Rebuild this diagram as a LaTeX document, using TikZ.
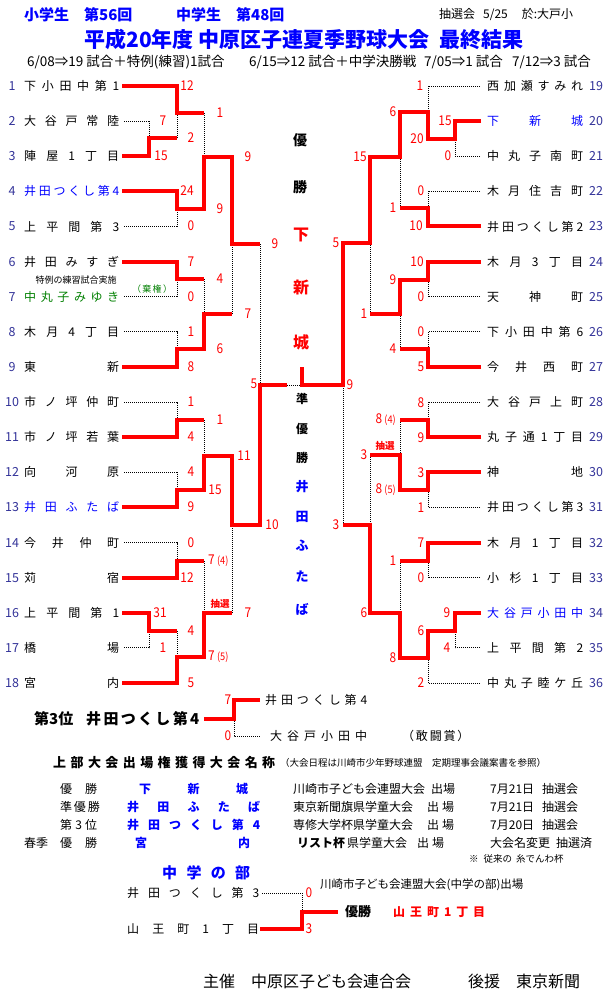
\documentclass[tikz,border=0pt]{standalone}
\usepackage{fontspec}
\setmainfont{Noto Sans CJK JP}
\newfontfamily\scorefont{Noto Sans CJK JP}[FakeStretch=0.88]
\definecolor{numblue}{HTML}{333399}
\definecolor{titleblue}{HTML}{0000FF}
\definecolor{teamgreen}{HTML}{008000}
\newcommand{\spreadtext}[2]{\makebox[#1][s]{#2}}
\newcommand{\fsz}[1]{\fontsize{#1}{#1}\selectfont}
\newcommand{\smallpar}[1]{{\fsz{10.5}#1}}
\tikzset{
  winline/.style={red, line width=4pt},
  loseline/.style={black, line width=0.9pt, dash pattern=on 1pt off 1pt},
  score/.style={red, font=\scorefont\fsz{13.5}},
  teamname/.style={anchor=west, font=\fsz{12}},
  teamnum/.style={numblue, font=\fsz{12.5}},
  lotbox/.style={red, font=\bfseries\fsz{9.5}},
}
\begin{document}
\begin{tikzpicture}[x=1pt,y=-1pt,every node/.style={inner sep=0pt}]
\fill[white] (0,0) rectangle (610,998);

% header
\node[anchor=west,titleblue,font=\bfseries\fsz{15}] (hd1) at (24,15) {小学生　第56回};
\node[anchor=west,titleblue,font=\bfseries\fsz{15}] (hd2) at (176,15) {中学生　第48回};
\node[anchor=west,font=\fsz{12}] (hd3) at (439,15) {抽選会\hspace{8pt}5/25\hspace{14pt}於:大戸小};
\node[titleblue,font=\bfseries\fsz{21}] (title) at (304,39) {平成20年度 中原区子連夏季野球大会\hspace{10pt}最終結果};
\node[anchor=west,font=\fsz{13.5}] (dates) at (27,62) {\makebox[222pt][l]{6/08⇒19 試合＋特例(練習)1試合}\makebox[175pt][l]{6/15⇒12 試合＋中学決勝戦}\makebox[88pt][l]{7/05⇒1 試合}7/12⇒3 試合};

% teams, left
\foreach \tn/\name/\col in {1/下 小 田 中 第 1/black, 2/大 谷 戸 常 陸/black,
  3/陣 屋 1 丁 目/black, 4/井 田 つ く し 第 4/titleblue, 5/上 平 間 第 3/black,
  6/井 田 み す ぎ/black, 7/中 丸 子 み ゆ き/teamgreen, 8/木 月 4 丁 目/black,
  9/東 新/black, 10/市 ノ 坪 仲 町/black, 11/市 ノ 坪 若 葉/black,
  12/向 河 原/black, 13/井 田 ふ た ば/titleblue, 14/今 井 仲 町/black,
  15/苅 宿/black, 16/上 平 間 第 1/black, 17/橋 場/black, 18/宮 内/black}{
  \node[teamnum] (n\tn) at (12,{86+(\tn-1)*35.12}) {\tn};
  \node[teamname,\col] (t\tn) at (24,{86+(\tn-1)*35.12}) {\spreadtext{95pt}{\name}};
}
% teams, right
\foreach \tn/\name/\col in {19/西 加 瀬 す み れ/black, 20/下 新 城/titleblue,
  21/中 丸 子 南 町/black, 22/木 月 住 吉 町/black, 23/井 田 つ く し 第 2/black,
  24/木 月 3 丁 目/black, 25/天 神 町/black, 26/下 小 田 中 第 6/black,
  27/今 井 西 町/black, 28/大 谷 戸 上 町/black, 29/丸 子 通 1 丁 目/black,
  30/神 地/black, 31/井 田 つ く し 第 3/black, 32/木 月 1 丁 目/black,
  33/小 杉 1 丁 目/black, 34/大 谷 戸 小 田 中/titleblue, 35/上 平 間 第 2/black,
  36/中 丸 子 睦 ケ 丘/black}{
  \node[teamnum] (n\tn) at (596,{86+(\tn-19)*35.12}) {\tn};
  \node[teamname,\col] (t\tn) at (487,{86+(\tn-19)*35.12}) {\spreadtext{96pt}{\name}};
}
\node[font=\fsz{9}] (note7) at (76,280) {特例の練習試合実施};
\node[teamgreen,font=\fsz{9}] (abst7) at (150,289) {\spreadtext{36pt}{（ 棄 権 ）}};

% losers, left
\draw[loseline] ([xshift=5pt]t2.east) -| (149,138);
\draw[loseline] (177,138) -- (177,113);
\draw[loseline] (204,113) -- (204,157);
\draw[loseline] ([xshift=5pt]t5.east) -| (177,209);
\draw[loseline] (260,244) -- (260,385);
\draw[loseline] ([xshift=5pt]t7.east) -| (177,279);
\draw[loseline] (204,279) -- (204,314);
\draw[loseline] ([xshift=5pt]t8.east) -| (177,349);
\draw[loseline] (232,314) -- (232,244);
\draw[loseline] ([xshift=5pt]t10.east) -| (177,420);
\draw[loseline] (204,420) -- (204,456);
\draw[loseline] ([xshift=5pt]t12.east) -| (177,490);
\draw[loseline] ([xshift=5pt]t14.east) -| (177,561);
\draw[loseline] (204,561) -- (204,613);
\draw[loseline] ([xshift=5pt]t17.east) -| (149,631);
\draw[loseline] (177,631) -- (177,657);
\draw[loseline] (232,613) -- (232,525);
\draw[loseline] (287,385) -- (302,385);
% losers, right
\draw[loseline] ([xshift=-7pt]t19.west) -| (428,112);
\draw[loseline] ([xshift=-7pt]t21.west) -| (455,139);
\draw[loseline] ([xshift=-7pt]t22.west) -| (428,208);
\draw[loseline] (400,208) -- (400,157);
\draw[loseline] ([xshift=-7pt]t25.west) -| (428,280);
\draw[loseline] (370,314) -- (370,243);
\draw[loseline] ([xshift=-7pt]t26.west) -| (428,349);
\draw[loseline] (400,349) -- (400,314);
\draw[loseline] ([xshift=-7pt]t28.west) -| (428,420);
\draw[loseline] (400,420) -- (400,455);
\draw[loseline] ([xshift=-7pt]t31.west) -| (428,490);
\draw[loseline] (370,455) -- (370,525);
\draw[loseline] ([xshift=-7pt]t33.west) -| (428,561);
\draw[loseline] (400,561) -- (400,613);
\draw[loseline] ([xshift=-7pt]t35.west) -| (455,631);
\draw[loseline] ([xshift=-7pt]t36.west) -| (428,658);
\draw[loseline] (343,525) -- (343,385);

% winners, left
\draw[winline] ([xshift=3pt]t1.east) -| (177,113) -- (204,113);
\draw[winline] ([xshift=3pt]t3.east) -| (149,138) -- (177,138);
\draw[winline] ([xshift=3pt]t4.east) -| (177,209) -| (204,157) -| (232,244) -- (260,244);
\draw[winline] ([xshift=3pt]t6.east) -| (177,279) -- (204,279);
\draw[winline] ([xshift=3pt]t9.east) -| (177,349) -| (204,314) -- (232,314);
\draw[winline] ([xshift=3pt]t11.east) -| (177,420) -- (204,420);
\draw[winline] ([xshift=3pt]t13.east) -| (177,490) -| (204,456) -| (232,525) -| (260,385) -- (287,385);
\draw[winline] ([xshift=3pt]t15.east) -| (177,561) -- (204,561);
\draw[winline] ([xshift=3pt]t16.east) -| (149,631) -- (177,631);
\draw[winline] ([xshift=3pt]t18.east) -| (177,657) -| (204,613) -- (232,613);
% winners, right
\draw[winline] ([xshift=-6pt]t20.west) -| (455,139) -| (428,112) -| (400,157) -| (370,243) -| (343,385) -| (302,367);
\draw[winline] ([xshift=-6pt]t23.west) -| (428,208) -- (400,208);
\draw[winline] ([xshift=-6pt]t24.west) -| (428,280) -| (400,314) -- (370,314);
\draw[winline] ([xshift=-6pt]t27.west) -| (428,349) -- (400,349);
\draw[winline] ([xshift=-6pt]t29.west) -| (428,420) -- (400,420);
\draw[winline] ([xshift=-6pt]t30.west) -| (428,490) -| (400,455) -- (370,455);
\draw[winline] ([xshift=-6pt]t32.west) -| (428,561) -- (400,561);
\draw[winline] ([xshift=-6pt]t34.west) -| (455,631) -| (428,658) -| (400,613) -| (370,525) -- (343,525);

% scores
\foreach \x/\y/\s [count=\i] in {187/86/12, 163/121/7, 161/156/15, 191/138/2, 220/113/1,
  248/157/9, 187/191/24, 220/209/9, 191/226/0, 275/244/9, 191/262/7, 191/297/0,
  220/279/4, 191/332/1, 191/367/8, 220/349/6, 248/314/7, 254/384/5, 191/402/1,
  191/437/4, 220/420/1, 191/472/4, 191/507/9, 215/490/15, 244/456/11, 272/525/10,
  191/543/0, 187/578/12, 160/613/31, 163/648/1, 191/631/4, 191/683/5, 248/613/7}
  \node[score] (sl\i) at (\x,\y) {\s};
\foreach \x/\y/\s [count=\i] in {420/86/1, 445/121/15, 448/156/0, 417/139/20, 393/112/6,
  421/191/0, 416/226/10, 393/208/1, 360/157/15, 336/243/5, 417/262/10, 421/297/0,
  393/280/9, 421/332/0, 421/367/5, 393/349/4, 364/314/1, 350/385/9, 421/403/8,
  421/438/9, 421/473/3, 421/508/1, 364/455/3, 336/525/3, 421/543/7, 421/578/0,
  393/561/1, 447/613/9, 447/648/4, 421/631/6, 421/683/2, 393/658/8, 364/613/6}
  \node[score] (sr\i) at (\x,\y) {\s};
\node[score,anchor=west] (sl34) at (208,561) {7\,\smallpar{(4)}};
\node[score,anchor=west] (sl35) at (208,657) {7\,\smallpar{(5)}};
\node[lotbox] (lotl) at (220,604) {抽選};
\node[score,anchor=east] (sr34) at (396,420) {8\,\smallpar{(4)}};
\node[score,anchor=east] (sr35) at (396,490) {8\,\smallpar{(5)}};
\node[lotbox] (lotr) at (385,446) {抽選};

% centre column
\foreach \y/\c [count=\i] in {140/優, 187/勝}
  \node[font=\bfseries\fsz{14}] (wa\i) at (300,\y) {\c};
\foreach \y/\c [count=\i] in {235/下, 288/新, 342/城}
  \node[red,font=\bfseries\fsz{16}] (wb\i) at (301,\y) {\c};
\foreach \y/\c [count=\i] in {399/準, 429/優, 458/勝}
  \node[font=\bfseries\fsz{12}] (ra\i) at (302,\y) {\c};
\foreach \y/\c [count=\i] in {487/井, 517/田, 546/ふ, 577/た, 609/ば}
  \node[titleblue,font=\bfseries\fsz{13}] (rb\i) at (302,\y) {\c};

% third place
\node[anchor=west,font=\bfseries\fsz{15}] (th1) at (34,719) {第3位};
\node[anchor=west,font=\bfseries\fsz{15}] (th2) at (86,719) {\spreadtext{113pt}{井 田 つ く し 第 4}};
\node[anchor=west,font=\fsz{12}] (p3a) at (265,700) {\spreadtext{102pt}{井 田 つ く し 第 4}};
\node[anchor=west,font=\fsz{12}] (p3b) at (270,736) {\spreadtext{97pt}{大 谷 戸 小 田 中}};
\node[anchor=west,font=\fsz{12}] (p3c) at (402,736) {\spreadtext{65pt}{（ 敢 闘 賞 ）}};
\draw[loseline] (234,719) |- ([xshift=-9pt]p3b.west);
\draw[winline] ([xshift=5pt]th2.east) -| (234,700) -- ([xshift=-5pt]p3a.west);
\node[score] (s3a) at (228,700) {7};
\node[score] (s3b) at (228,736) {0};

% qualifiers
\node[anchor=west,font=\bfseries\fsz{13}] (qh1) at (53,763) {\spreadtext{222pt}{上 部 大 会 出 場 権 獲 得 大 会 名 称}};
\node[anchor=west,font=\fsz{9.5}] (qh2) at (280,763) {（大会日程は川崎市少年野球連盟　定期理事会議案書を参照）};
\node[anchor=west,font=\fsz{12}] (qa1) at (60,789) {\spreadtext{37pt}{優 勝}};
\node[anchor=west,font=\fsz{12}] (qa2) at (60,807) {\spreadtext{37pt}{準 優 勝}};
\node[anchor=west,font=\fsz{12}] (qa3) at (60,825) {\spreadtext{37pt}{第 3 位}};
\node[anchor=west,font=\fsz{12}] (qa4) at (24,843) {春季};
\node[anchor=west,font=\fsz{12}] (qa5) at (60,843) {\spreadtext{37pt}{優 勝}};
\node[anchor=west,titleblue,font=\bfseries\fsz{12}] (qb1) at (139,789) {\spreadtext{109pt}{下 新 城}};
\node[anchor=west,titleblue,font=\bfseries\fsz{12}] (qb2) at (127,807) {\spreadtext{133pt}{井 田 ふ た ば}};
\node[anchor=west,titleblue,font=\bfseries\fsz{12}] (qb3) at (127,825) {\spreadtext{133pt}{井 田 つ く し 第 4}};
\node[anchor=west,titleblue,font=\bfseries\fsz{12}] (qb4) at (135,843) {\spreadtext{115pt}{宮 内}};
\node[anchor=west,font=\fsz{12}] (qc1) at (293,789) {川崎市子ども会連盟大会\hspace{6pt}出場};
\node[anchor=west,font=\fsz{12}] (qc2) at (293,807) {東京新聞旗県学童大会\hspace{14pt}出\hspace{3pt}場};
\node[anchor=west,font=\fsz{12}] (qc3) at (293,825) {専修大学杯県学童大会\hspace{14pt}出\hspace{3pt}場};
\node[anchor=west,font=\fsz{12}] (qc4) at (297,843) {\textbf{リスト杯}\hspace{2pt}県学童大会\hspace{10pt}出\hspace{3pt}場};
\node[anchor=west,font=\fsz{12}] (qd1) at (490,789) {7月21日\hspace{8pt}抽選会};
\node[anchor=west,font=\fsz{12}] (qd2) at (490,807) {7月21日\hspace{8pt}抽選会};
\node[anchor=west,font=\fsz{12}] (qd3) at (490,825) {7月20日\hspace{8pt}抽選会};
\node[anchor=west,font=\fsz{12}] (qd4) at (490,843) {大会名変更\hspace{6pt}抽選済};
\node[anchor=west,font=\fsz{9.5}] (qnote) at (469,859) {\textbf{※}\hspace{5pt}従来の\hspace{4pt}糸でんわ杯};

% junior high
\node[anchor=west,titleblue,font=\bfseries\fsz{15}] (jh) at (162,873) {\spreadtext{88pt}{中 学 の 部}};
\node[anchor=west,font=\fsz{12}] (jm1) at (127,893) {\spreadtext{132pt}{井 田 つ く し 第 3}};
\node[anchor=west,font=\fsz{12}] (jm2) at (127,929) {\spreadtext{132pt}{山 王 町 1 丁 目}};
\node[anchor=west,font=\fsz{11.5}] (jq) at (320,885) {川崎市子ども会連盟大会(中学の部)出場};
\node[anchor=west,font=\bfseries\fsz{13}] (jw) at (345,912) {優勝};
\node[anchor=west,red,font=\bfseries\fsz{12}] (jwn) at (393,912) {\spreadtext{92pt}{山 王 町 1 丁 目}};
\draw[loseline] ([xshift=3pt]jm1.east) -| (302,912);
\draw[winline] ([xshift=1pt]jm2.east) -| (302,912) -- ([xshift=-7pt]jw.west);
\node[score] (sj1) at (309,893) {0};
\node[score] (sj2) at (309,929) {3};

% footer
\node[anchor=west,font=\fsz{16}] (ft1) at (203,981) {主催　中原区子ども会連合会};
\node[anchor=west,font=\fsz{16}] (ft2) at (468,981) {後援　東京新聞};
\end{tikzpicture}
\end{document}
